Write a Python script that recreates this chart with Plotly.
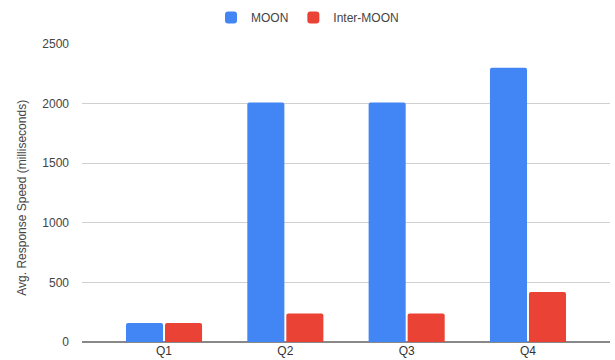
import plotly.graph_objects as go

categories = ["Q1", "Q2", "Q3", "Q4"]
moon = [160, 2010, 2010, 2300]
inter_moon = [160, 240, 240, 420]
y_ticks = [0, 500, 1000, 1500, 2000, 2500]

FONT = "Liberation Sans, Arial, sans-serif"

fig = go.Figure()
fig.add_trace(go.Bar(name="MOON", x=categories, y=moon,
                     marker=dict(color="#4285F4", cornerradius=2, line=dict(width=0))))
fig.add_trace(go.Bar(name="Inter-MOON", x=categories, y=inter_moon,
                     marker=dict(color="#EA4335", cornerradius=2, line=dict(width=0))))

fig.update_layout(
    width=615, height=360,
    margin=dict(l=82, r=5, t=44, b=17.5, autoexpand=False),
    plot_bgcolor="white", paper_bgcolor="white",
    font=dict(family=FONT, size=12, color="#444"),
    barmode="group", bargap=0.357, bargroupgap=0.05,
    legend=dict(orientation="h", xref="container", yref="container",
                x=0.5, xanchor="center", y=1 - 3/360, yanchor="top",
                font=dict(size=12, color="#444"), itemclick=False,
                traceorder="normal"),
    xaxis=dict(type="category", range=[-0.676, 3.676], showgrid=False,
               showline=False, zeroline=False, ticks="", automargin=False,
               tickfont=dict(size=12, color="#333")),
    yaxis=dict(range=[0, 2500], tickvals=y_ticks, showgrid=True,
               gridcolor="#d0d0d0", gridwidth=1, zeroline=True,
               zerolinecolor="#888", zerolinewidth=2, showline=False,
               ticks="", ticklabelstandoff=12, automargin=False,
               tickfont=dict(size=12, color="#444")),
    annotations=[dict(text="Avg. Response Speed (milliseconds)", textangle=-90,
                      xref="paper", yref="paper", x=-(82 - 22) / 528,
                      y=(342.5 - 198) / 298.5, xanchor="center", yanchor="middle",
                      showarrow=False, font=dict(size=12, color="#444"))],
)

fig.write_html("out.html")
